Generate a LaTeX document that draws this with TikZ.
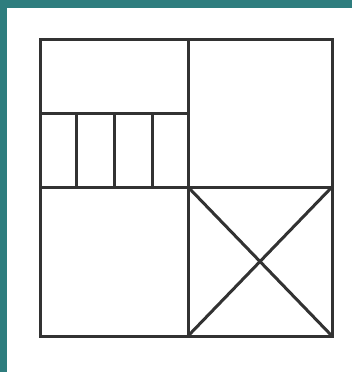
\documentclass[tikz,border=0pt]{standalone}
\usepackage{xcolor}
\usepackage{tikz}
\definecolor{FrameTeal}{RGB}{46,125,126}
\definecolor{InkGray}{RGB}{50,50,50}

\begin{document}
\begin{tikzpicture}[x=1pt,y=-1pt]
        \useasboundingbox (0,0) rectangle (352,372);
        \fill[white] (0,0) rectangle (352,372);
        \fill[FrameTeal] (0,0) rectangle (352,8);
        \fill[FrameTeal] (0,0) rectangle (7,372);
        \tikzset{wall/.style={draw=InkGray, line width=3pt, line join=miter}}
        \coordinate (tl) at (40.5,39);
        \coordinate (br) at (332,336);
        \coordinate (mid) at (188,187);
        \draw[wall] (tl) rectangle (br);
        \draw[wall] (188,39) -- (188,336);
        \draw[wall] (40.5,187) -- (332,187);
        \draw[wall] (40.5,113) -- (188,113);
        \foreach \x in {76,114,152} {
          \draw[wall] (\x,113) -- (\x,187);
        }
        \draw[wall] (mid) -- (br);
        \draw[wall] (332,187) -- (188,336);
      \end{tikzpicture}
\end{document}
